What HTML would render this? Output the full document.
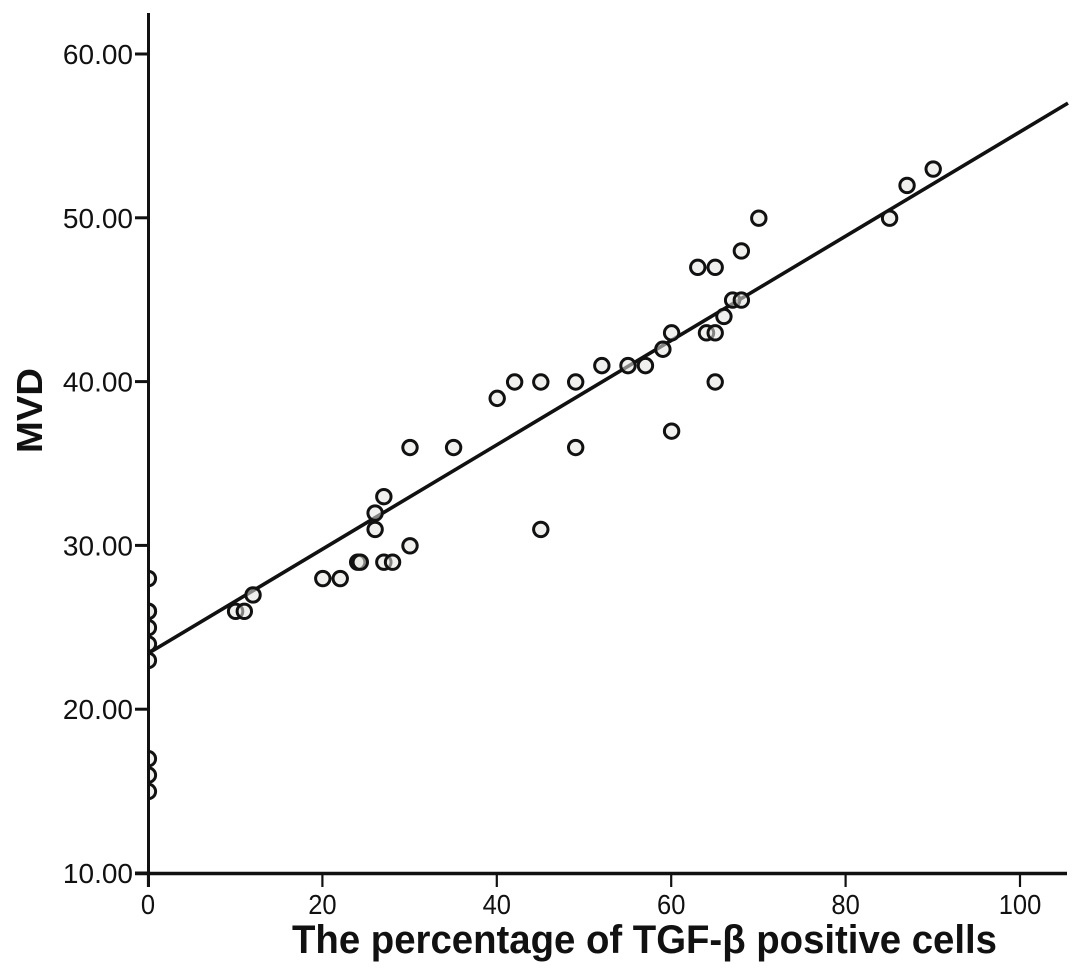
<!DOCTYPE html>
<html>
<head>
<meta charset="utf-8">
<style>
html,body{margin:0;padding:0;background:#fff;}
svg{display:block;}
text{font-family:"Liberation Sans",sans-serif;fill:#111;}
</style>
</head>
<body>
<svg id="chart" width="1087" height="974" viewBox="0 0 1087 974" xmlns="http://www.w3.org/2000/svg">
<defs><clipPath id="plot-clip"><rect x="148" y="0" width="939" height="873"/></clipPath></defs>
<rect width="1087" height="974" fill="#fff"/>
<g id="fit"></g>
<g id="pts" clip-path="url(#plot-clip)"></g>
<g id="axes"></g>
<text x="292" y="953" font-size="40" font-weight="700" textLength="705" lengthAdjust="spacingAndGlyphs">The percentage of TGF-β positive cells</text>
<text transform="translate(42,453) rotate(-90)" font-size="36" font-weight="700" textLength="85" lengthAdjust="spacingAndGlyphs">MVD</text>
</svg>
<script>
const xTicks = [0, 20, 40, 60, 80, 100];
const yTicks = [10, 20, 30, 40, 50, 60];
const yTickLabels = ["10.00", "20.00", "30.00", "40.00", "50.00", "60.00"];
const percentValues = [0,0,0,0,0,0,0,0,0,10,11,12,20,22,24,24.3,26,26,27,27,28,30,30,35,40,42,45,45,49,49,52,55,57,59,60,60,63,64,65,65,65,66,67,68,68,70,85,87,90];
const mvdValues = [28,26,26,25,24,23,17,16,15,26,26,27,28,28,29,29,32,31,33,29,29,36,30,36,39,40,40,31,40,36,41,41,41,42,43,37,47,43,47,43,40,44,45,45,48,50,50,52,53];
const fitLineX = [0, 105.5];
const fitLineY = [23.4, 57];

const xScale = v => 148 + v * 8.72;
const yScale = v => 873 - (v - 10) * 16.38;
const NS = "http://www.w3.org/2000/svg";
function make(tag, attrs, parent) {
  const el = document.createElementNS(NS, tag);
  for (const k in attrs) el.setAttribute(k, attrs[k]);
  parent.appendChild(el);
  return el;
}
const axes = document.getElementById("axes");
const pts = document.getElementById("pts");
const fit = document.getElementById("fit");

const fitLine = make("line", {x1: xScale(fitLineX[0]), y1: yScale(fitLineY[0]), x2: xScale(fitLineX[1]), y2: yScale(fitLineY[1]), stroke: "#111", "stroke-width": 3.6}, fit);



percentValues.forEach((p, i) => {
  const c = make("circle", {cx: xScale(p) + 0.4, cy: yScale(mvdValues[i]) + 0.4, r: 7.2, fill: "#e4e4e0", "fill-opacity": 0.55, stroke: "#111", "stroke-width": 3}, pts);
  
  
});

const yAxisLine = make("line", {x1: 148.5, y1: 13, x2: 148.5, y2: 887, stroke: "#111", "stroke-width": 3}, axes);


const xAxisLine = make("line", {x1: 135, y1: 873.5, x2: 1067, y2: 873.5, stroke: "#111", "stroke-width": 3.4}, axes);



yTicks.forEach((v, i) => {
  const t = make("line", {x1: 135, x2: 148, y1: yScale(v), y2: yScale(v), stroke: "#111", "stroke-width": 3}, axes);
  
  
  const l = make("text", {x: 133, y: yScale(v) + 10, "font-size": 28, "text-anchor": "end"}, axes);
  l.textContent = yTickLabels[i];
  
  
});
xTicks.forEach(v => {
  const t = make("line", {x1: xScale(v), x2: xScale(v), y1: 873, y2: 887, stroke: "#111", "stroke-width": 2.2}, axes);
  
  
  const label = String(v);
  const l = make("text", {x: xScale(v), y: 914, "font-size": 28, "text-anchor": "middle", textLength: label.length * 14.2, lengthAdjust: "spacingAndGlyphs"}, axes);
  l.textContent = label;
  
  
});
</script>
</body>
</html>
